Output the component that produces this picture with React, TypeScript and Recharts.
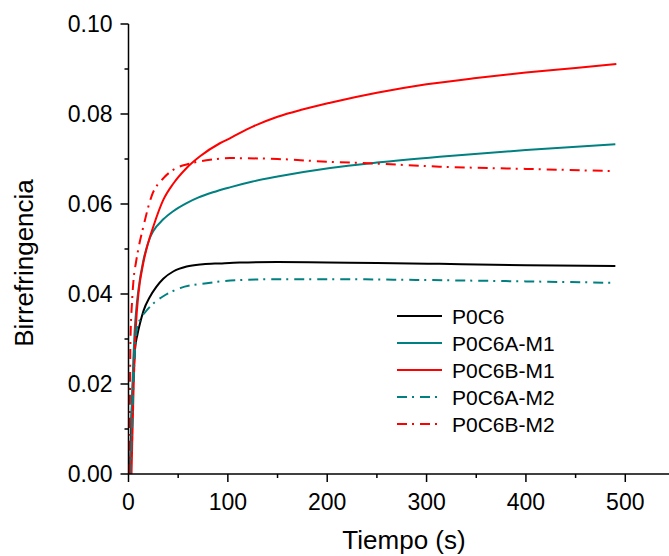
import React from 'react';
import { LineChart, Line, XAxis, YAxis, Legend } from 'recharts';

// tiempo (s) y birrefringencia de cada muestra
const tP0C6 = [1.5, 3, 5, 6.5, 9, 11.6, 15, 21.6, 28, 35, 45, 58.5, 75, 92, 112, 150, 200, 250, 313, 400, 490];
const bP0C6 = [0, 0.013, 0.022, 0.0276, 0.031, 0.0335, 0.0362, 0.0394, 0.0416, 0.0434, 0.045, 0.0461, 0.0466, 0.0468, 0.047, 0.0471, 0.047, 0.0469, 0.0467, 0.0464, 0.0462];

const tA_M1 = [2, 4, 6, 8, 10, 15, 21.6, 25, 35, 45, 58.5, 70, 85, 102, 125, 150, 203, 250, 313, 400, 490];
const bA_M1 = [0, 0.02, 0.031, 0.037, 0.041, 0.0475, 0.0525, 0.054, 0.0566, 0.0584, 0.0602, 0.0614, 0.0626, 0.0637, 0.065, 0.0661, 0.068, 0.0692, 0.0705, 0.072, 0.0733];

const tB_M1 = [3, 5, 7.5, 10, 15, 20, 25, 35, 45, 58.5, 72, 92, 102, 125, 150, 175, 203, 250, 300, 350, 400, 450, 491];
const bB_M1 = [0, 0.018, 0.033, 0.04, 0.047, 0.0515, 0.055, 0.0609, 0.0645, 0.068, 0.0706, 0.0735, 0.0746, 0.0772, 0.0794, 0.081, 0.0825, 0.0847, 0.0866, 0.088, 0.0892, 0.0902, 0.0911];

const tA_M2 = [2, 3.2, 5, 8.2, 12, 17, 25, 35, 52, 78.7, 112, 150, 200, 300, 400, 485];
const bA_M2 = [0, 0.0076, 0.02, 0.032, 0.0345, 0.036, 0.0379, 0.0395, 0.0413, 0.0424, 0.0431, 0.0433, 0.0433, 0.0431, 0.0428, 0.0425];

const tB_M2 = [1, 2, 3.5, 5, 7.5, 9.9, 15, 23, 35, 45, 62, 85, 102, 150, 200, 246, 313, 400, 490];
const bB_M2 = [0, 0.03, 0.038, 0.043, 0.047, 0.05, 0.055, 0.0616, 0.0657, 0.0676, 0.069, 0.0699, 0.0702, 0.07, 0.0694, 0.069, 0.0683, 0.0678, 0.0673];

const xTicks = [0, 50, 100, 150, 200, 250, 300, 350, 400, 450, 500];
const yTicks = [0, 0.01, 0.02, 0.03, 0.04, 0.05, 0.06, 0.07, 0.08, 0.09, 0.1];

const TEAL = '#008080';
const RED = '#ff0000';
const DASHDOT = '10 5 2 6';
const FONT = 'Arial, "Liberation Sans", sans-serif';

const toPoints = (t: number[], b: number[]) => t.map((x, i) => ({ t: x, b: b[i] }));

const series = [
  { name: 'P0C6', data: toPoints(tP0C6, bP0C6), color: '#000000', dash: undefined },
  { name: 'P0C6A-M1', data: toPoints(tA_M1, bA_M1), color: TEAL, dash: undefined },
  { name: 'P0C6B-M1', data: toPoints(tB_M1, bB_M1), color: RED, dash: undefined },
  { name: 'P0C6A-M2', data: toPoints(tA_M2, bA_M2), color: TEAL, dash: DASHDOT },
  { name: 'P0C6B-M2', data: toPoints(tB_M2, bB_M2), color: RED, dash: DASHDOT },
];

const XTick = (props: any) => {
  const { x, y, payload } = props;
  const major = payload.value % 100 === 0;
  return (
    <g>
      <line x1={x} x2={x} y1={y} y2={y + (major ? 8 : 4)} stroke="#000" strokeWidth={1.5} />
      {major && (
        <text x={x} y={y + 36} textAnchor="middle" fontSize={23} fontFamily={FONT} fill="#000">
          {payload.value}
        </text>
      )}
    </g>
  );
};

const YTick = (props: any) => {
  const { x, y, payload } = props;
  const major = Math.round(payload.value * 100) % 2 === 0;
  return (
    <g>
      <line x1={x - (major ? 8 : 4)} x2={x} y1={y} y2={y} stroke="#000" strokeWidth={1.5} />
      {major && (
        <text x={x - 16} y={y + 8} textAnchor="end" fontSize={23} fontFamily={FONT} fill="#000">
          {payload.value.toFixed(2)}
        </text>
      )}
    </g>
  );
};

const XLabel = () => (
  <text x={404} y={549} textAnchor="middle" fontSize={26} fontFamily={FONT} fill="#000">
    Tiempo (s)
  </text>
);

const YLabel = () => (
  <text x={33} y={263} transform="rotate(-90, 33, 263)" textAnchor="middle" fontSize={26} fontFamily={FONT} fill="#000">
    Birrefringencia
  </text>
);

const renderLegend = () => (
  <svg width={220} height={140}>
    {series.map((s, i) => (
      <g key={s.name}>
        <line x1={2} x2={47} y1={13 + 27 * i} y2={13 + 27 * i} stroke={s.color} strokeWidth={2} strokeDasharray={s.dash} />
        <text x={57} y={13 + 27 * i + 7.5} fontSize={21} fontFamily={FONT} fill="#000">
          {s.name}
        </text>
      </g>
    ))}
  </svg>
);

export default function App() {
  return (
    <div style={{ position: 'absolute', left: 0, top: 0, width: 669, height: 556, background: '#fff' }}>
      <LineChart width={669} height={556} margin={{ top: 24, right: 0, left: 0, bottom: 0 }}>
        <XAxis
          type="number"
          dataKey="t"
          domain={[0, 544]}
          ticks={xTicks}
          allowDataOverflow
          height={82}
          tickSize={0}
          tickMargin={0}
          tickLine={false}
          tick={<XTick />}
          axisLine={{ stroke: '#000', strokeWidth: 1.5 }}
          label={<XLabel />}
        />
        <YAxis
          type="number"
          dataKey="b"
          domain={[0, 0.1]}
          ticks={yTicks}
          width={128.5}
          tickSize={0}
          tickMargin={0}
          tickLine={false}
          tick={<YTick />}
          axisLine={{ stroke: '#000', strokeWidth: 1.5 }}
          label={<YLabel />}
        />
        <Legend
          layout="vertical"
          align="center"
          verticalAlign="middle"
          content={renderLegend}
          wrapperStyle={{ position: 'absolute', left: 395, top: 303, width: 220, height: 140 }}
        />
        {series.map((s) => (
          <Line
            key={s.name}
            name={s.name}
            data={s.data}
            dataKey="b"
            type="monotone"
            stroke={s.color}
            strokeWidth={2}
            strokeDasharray={s.dash}
            dot={false}
            activeDot={false}
            isAnimationActive={false}
          />
        ))}
      </LineChart>
    </div>
  );
}
